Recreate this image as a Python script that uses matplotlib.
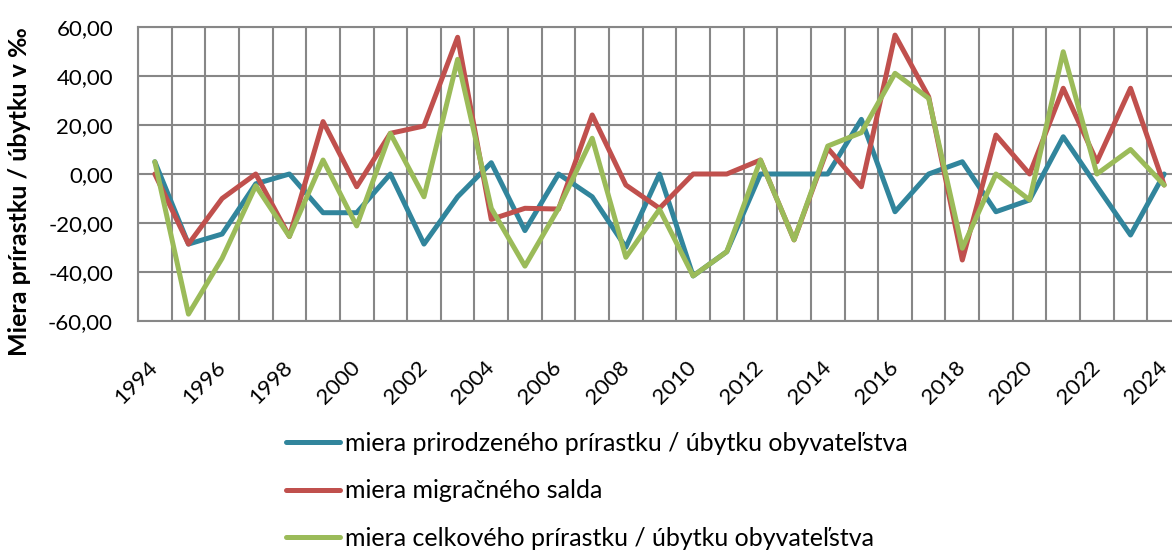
import matplotlib
matplotlib.use("Agg")
import matplotlib.pyplot as plt
from matplotlib.ticker import FixedLocator, FuncFormatter

years = list(range(1994, 2025))
natural = [5.0, -28.6, -24.5, -4.0, 0.0, -15.8, -15.8, 0.0, -28.6, -9.3,
           4.6, -23.1, 0.0, -9.3, -29.9, 0.0, -41.6, -31.7, 0.0, 0.0,
           0.0, 22.3, -15.4, 0.0, 5.0, -15.4, -10.6, 15.2, -5.0, -24.9, 0.0]
migration = [0.0, -28.6, -10.0, 0.0, -25.5, 21.4, -5.2, 16.6, 19.6, 55.8,
             -18.5, -14.0, -14.3, 24.1, -4.5, -14.0, 0.0, 0.0, 5.7, -26.9,
             10.5, -5.2, 56.7, 31.5, -35.1, 15.9, 0.0, 35.0, 5.0, 35.0, -4.5]
total = [5.0, -57.2, -34.4, -4.8, -25.5, 5.7, -21.2, 16.6, -9.3, 46.8,
         -14.0, -37.6, -14.0, 14.6, -34.0, -14.4, -41.6, -31.7, 5.7, -26.9,
         11.4, 16.9, 41.1, 30.9, -30.3, 0.0, -10.6, 49.9, 0.0, 10.0, -4.5]
series_labels = ["miera prirodzeného prírastku / úbytku obyvateľstva",
                 "miera migračného salda",
                 "miera celkového prírastku / úbytku obyvateľstva"]
colors = ["#31859C", "#C0504D", "#9BBB59"]
y_ticks = [-60, -40, -20, 0, 20, 40, 60]
y_label = "Miera prírastku / úbytku v ‰"

plt.rcParams['font.family'] = ['Lato', 'DejaVu Sans']

fig = plt.figure(figsize=(11.72, 5.5), dpi=100)
W, H = 1172, 550
ax = fig.add_axes([138 / W, 1 - 321 / H, 1043 / W, 294 / H])

x = list(range(len(years)))
lines = []
for vals, c, lab in zip([natural, migration, total], colors, series_labels):
    ln, = ax.plot(x, vals, color=c, lw=3.6, solid_joinstyle='round',
                  solid_capstyle='round', label=lab)
    lines.append(ln)

ax.set_xlim(-0.5, len(years) - 0.5)
ax.set_ylim(-60, 60)
ax.yaxis.set_major_locator(FixedLocator(y_ticks))
ax.yaxis.set_major_formatter(FuncFormatter(lambda v, p: f"{v:.2f}".replace('.', ',')))
ax.xaxis.set_major_locator(FixedLocator(x[::2]))
ax.set_xticklabels([str(y) for y in years[::2]])
ax.xaxis.set_minor_locator(FixedLocator([i + 0.5 for i in range(-1, len(years))]))

grid_c = "#878787"
ax.grid(True, which='minor', axis='x', color=grid_c, lw=1.5)
ax.grid(True, which='major', axis='y', color=grid_c, lw=1.5)
ax.set_axisbelow(True)
for s in ax.spines.values():
    s.set_color(grid_c)
    s.set_linewidth(1.5)

ax.tick_params(axis='both', which='both', length=0)
ax.tick_params(axis='y', labelsize=16, pad=18)
ax.tick_params(axis='x', labelsize=16, pad=31)
for t in ax.get_xticklabels():
    t.set_rotation(45)
    t.set_ha('right')
    t.set_va('center')
    t.set_rotation_mode('anchor')

fig.text(20 / W, 1 - 192 / H, y_label, rotation=90, fontsize=18,
         fontweight='bold', ha='center', va='center')

fig.legend(handles=lines, labels=series_labels, loc='upper left',
           bbox_to_anchor=(286 / W, 1 - 432 / H), frameon=False,
           fontsize=18, handlelength=2.16, handletextpad=0.2,
           labelspacing=0.98, borderaxespad=0, borderpad=0)

fig.savefig("out.png", dpi=100)
